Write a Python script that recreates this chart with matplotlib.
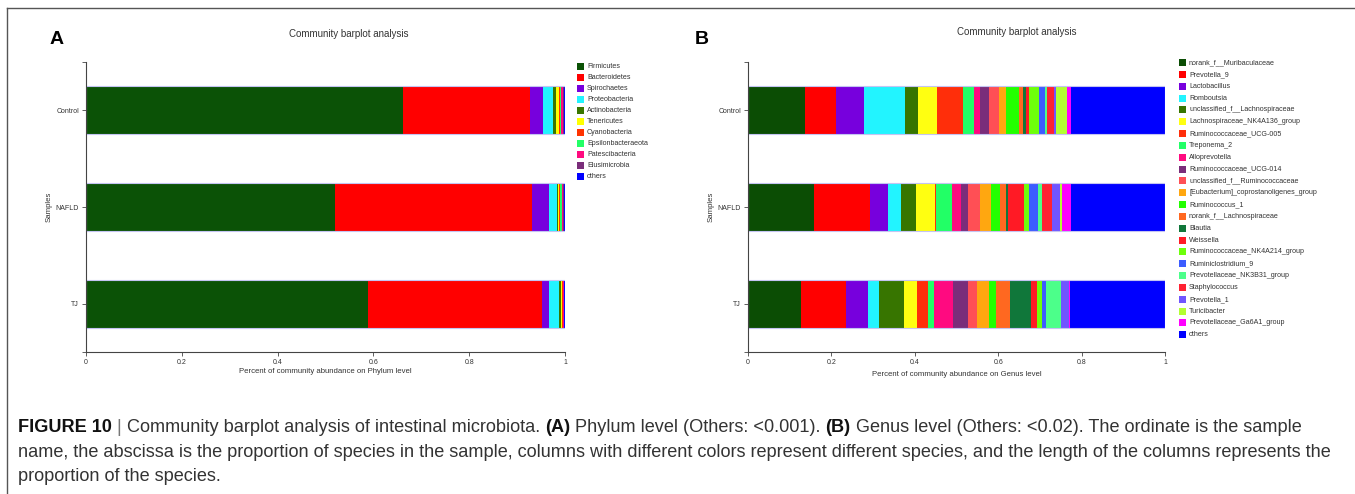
import numpy as np
import matplotlib
matplotlib.use('Agg')
import matplotlib.pyplot as plt
from matplotlib.patches import Rectangle
from matplotlib.lines import Line2D

W, H = 1355, 494
plt.rcParams['font.family'] = ['Liberation Sans', 'DejaVu Sans']

samples = ['Control', 'NAFLD', 'TJ']
xticks = [0, 0.2, 0.4, 0.6, 0.8, 1]
xtick_labels = ['0', '0.2', '0.4', '0.6', '0.8', '1']

# ---------------- Panel A : phylum level ----------------
phylum_names = ['Firmicutes', 'Bacteroidetes', 'Spirochaetes', 'Proteobacteria',
                'Actinobacteria', 'Tenericutes', 'Cyanobacteria', 'Epsilonbacteraeota',
                'Patescibacteria', 'Elusimicrobia', 'others']
phylum_colors = ['#0b5206', '#ff0000', '#7700dd', '#22f4ff', '#3a7600', '#ffff00',
                 '#ff3300', '#22ff66', '#ff0a7f', '#7a2d7a', '#0000ff']
phylum_control = [0.661, 0.266, 0.028, 0.019, 0.007, 0.006, 0.002, 0.002, 0.005, 0.002, 0.002]
phylum_nafld = [0.519, 0.412, 0.036, 0.016, 0.003, 0.002, 0.002, 0.003, 0.002, 0.002, 0.003]
phylum_tj = [0.589, 0.363, 0.014, 0.021, 0.004, 0.002, 0.002, 0.001, 0.001, 0.001, 0.002]

# ---------------- Panel B : genus level ----------------
genus_names = ['norank_f__Muribaculaceae', 'Prevotella_9', 'Lactobacillus', 'Romboutsia',
               'unclassified_f__Lachnospiraceae', 'Lachnospiraceae_NK4A136_group',
               'Ruminococcaceae_UCG-005', 'Treponema_2', 'Alloprevotella',
               'Ruminococcaceae_UCG-014', 'unclassified_f__Ruminococcaceae',
               '[Eubacterium]_coprostanoligenes_group', 'Ruminococcus_1',
               'norank_f__Lachnospiraceae', 'Blautia', 'Weissella',
               'Ruminococcaceae_NK4A214_group', 'Ruminiclostridium_9',
               'Prevotellaceae_NK3B31_group', 'Staphylococcus', 'Prevotella_1',
               'Turicibacter', 'Prevotellaceae_Ga6A1_group', 'others']
genus_colors = ['#0b4d04', '#ff0000', '#7700dd', '#22f4ff', '#377500', '#ffff11',
                '#ff2e0a', '#22ff66', '#ff0a80', '#7a2d7a', '#ff4f55', '#ffa710',
                '#22ff00', '#ff6820', '#10773a', '#ff1a25', '#6eff0a', '#3c5cff',
                '#4cff8a', '#ff2233', '#7055ff', '#b3ff33', '#ff00ff', '#0000ff']
genus_control = [0.136, 0.074, 0.068, 0.098, 0.032, 0.046, 0.062, 0.027, 0.013, 0.022,
                 0.023, 0.018, 0.030, 0.011, 0.007, 0.006, 0.026, 0.014, 0.003, 0.019,
                 0.003, 0.028, 0.008, 0.226]
genus_nafld = [0.158, 0.135, 0.043, 0.030, 0.038, 0.045, 0.003, 0.038, 0.020, 0.018,
               0.029, 0.026, 0.022, 0.014, 0.004, 0.039, 0.012, 0.022, 0.010, 0.023,
               0.020, 0.003, 0.022, 0.226]
genus_tj = [0.128, 0.108, 0.052, 0.025, 0.062, 0.031, 0.026, 0.014, 0.046, 0.036,
            0.020, 0.030, 0.017, 0.034, 0.049, 0.014, 0.013, 0.010, 0.035, 0.001,
            0.018, 0.001, 0.001, 0.229]

fig = plt.figure(figsize=(W / 100, H / 100), dpi=100)


def fx(x):
    return x / W


def fy(y):
    return 1 - y / H


def panel(l, t, r, b, names, colors, rows, xlabel, xlabel_y, title_x, title_y,
          letter, letter_x, ylabel_x, leg_x, leg_y0, leg_dy):
    ax = fig.add_axes([fx(l), fy(b), (r - l) / W, (b - t) / H])
    ypos = np.arange(len(samples))
    data = np.array(rows)
    left = np.zeros(len(samples))
    for j, c in enumerate(colors):
        ax.barh(ypos, data[:, j], left=left, height=0.5, color=c, linewidth=0)
        left = left + data[:, j]
    ax.barh(ypos, left, height=0.5, fill=False, edgecolor='#c4c4f2', linewidth=0.8)
    ax.set_xlim(0, 1)
    ax.set_ylim(2.5, -0.5)
    ax.set_xticks(xticks)
    ax.set_xticklabels(xtick_labels)
    ax.set_yticks([-0.5] + list(ypos) + [2.5])
    ax.set_yticklabels([''] + samples + [''])
    for s in ['top', 'right']:
        ax.spines[s].set_visible(False)
    for s in ['left', 'bottom']:
        ax.spines[s].set_color('#444444')
        ax.spines[s].set_linewidth(0.8)
    ax.tick_params(axis='both', length=3, width=0.6, color='#444444',
                   labelsize=5, labelcolor='#333333', pad=2)
    # labels
    fig.text(fx((l + r) / 2), fy(xlabel_y), xlabel, ha='center', va='center',
             fontsize=5.6, color='#333333')
    fig.text(fx(ylabel_x), fy((t + b) / 2), 'Samples', ha='center', va='center',
             rotation=90, fontsize=5.6, color='#333333')
    fig.text(fx(title_x), fy(title_y), 'Community barplot analysis', ha='center',
             va='center', fontsize=7, color='#333333')
    fig.text(fx(letter_x), fy(40), letter, ha='center', va='center', fontsize=14,
             fontweight='bold', color='black')
    # legend
    for i, (n, c) in enumerate(zip(names, colors)):
        yc = leg_y0 + i * leg_dy
        fig.patches.append(Rectangle((fx(leg_x), fy(yc + 3.5)), 7 / W, 7 / H,
                                     transform=fig.transFigure, facecolor=c,
                                     edgecolor='none'))
        fig.text(fx(leg_x + 10), fy(yc), n, ha='left', va='center', fontsize=5.1,
                 color='#333333')
    return ax


panel(86, 62, 565, 352, phylum_names, phylum_colors,
      [phylum_control, phylum_nafld, phylum_tj],
      'Percent of community abundance on Phylum level', 371, 349, 34,
      'A', 57, 49, 577, 66.5, 11.03)
panel(748, 62, 1165, 352, genus_names, genus_colors,
      [genus_control, genus_nafld, genus_tj],
      'Percent of community abundance on Genus level', 374, 1017, 32,
      'B', 702, 711, 1179, 62.5, 11.84)

# frame
fig.add_artist(Line2D([fx(7), fx(7)], [fy(8), fy(494)], transform=fig.transFigure,
                      color='#555555', linewidth=1.0))
fig.add_artist(Line2D([fx(7), fx(1355)], [fy(8), fy(8)], transform=fig.transFigure,
                      color='#555555', linewidth=1.0))

# caption
renderer = fig.canvas.get_renderer()
ref_line = ('name, the abscissa is the proportion of species in the sample, columns with '
            'different colors represent different species, and the length of the columns '
            'represents the')
tmp = fig.text(0, 0, ref_line, fontsize=12)
wpx = tmp.get_window_extent(renderer).width
tmp.remove()
cap_fs = 12 * (1339 - 18) / wpx

caption_lines = [
    [('FIGURE 10', 'bold', '#111111'), (' | ', 'normal', '#777777'),
     ('Community barplot analysis of intestinal microbiota. ', 'normal', '#333333'),
     ('(A)', 'bold', '#111111'),
     (' Phylum level (Others: <0.001). ', 'normal', '#333333'),
     ('(B)', 'bold', '#111111'),
     (' Genus level (Others: <0.02). The ordinate is the sample', 'normal', '#333333')],
    [(ref_line, 'normal', '#333333')],
    [('proportion of the species.', 'normal', '#333333')],
]
cap_y = [427, 452, 476]
for runs, yc in zip(caption_lines, cap_y):
    x = 18
    for txt, wt, col in runs:
        t = fig.text(fx(x), fy(yc), txt, ha='left', va='center', fontsize=cap_fs,
                     fontweight=wt, color=col)
        x += t.get_window_extent(renderer).width

fig.savefig('out.png', dpi=100, facecolor='white')
